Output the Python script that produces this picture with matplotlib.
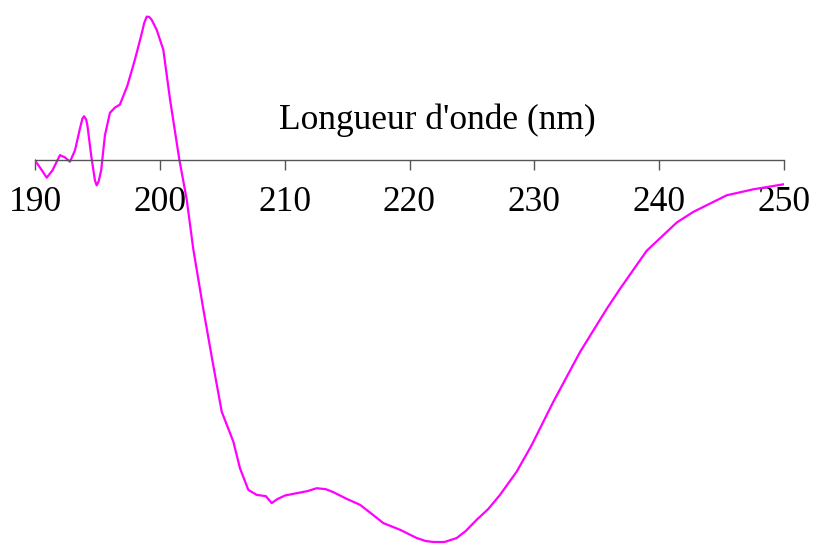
import numpy as np
import matplotlib.pyplot as plt

# CD spectrum (arbitrary units)
wavelength = [190.0, 190.5, 190.94, 191.4, 192.0, 192.4, 192.8, 193.2, 193.6, 193.8, 193.93,
              194.1, 194.2, 194.5, 194.8, 194.94, 195.1, 195.3, 195.6, 196.0, 196.4, 196.8, 197.4, 198.0,
              198.5, 198.75, 198.95, 199.15, 199.35, 199.75, 200.28, 200.82, 201.56, 202.15, 202.68,
              203.48, 204.28, 204.96, 205.89, 206.42, 207.09, 207.76, 208.5,
              208.96, 209.4, 210.03, 210.96, 211.8, 212.57, 213.3, 213.9, 214.97,
              216.04, 217.0, 217.9, 219.24, 220.58, 221.3, 221.91, 222.8, 223.78,
              224.5, 225.38, 226.3, 227.25, 228.59, 229.79, 231.52, 233.66, 235.8,
              236.86, 239.0, 241.41, 242.73, 245.41, 247.54, 249.95]
signal = [0, -9, -17.3, -10, 5.3, 3, -1.3, 10, 32, 42, 44.3,
          41, 35, 5, -20, -25, -21, -10, 25, 47.7, 53, 56, 75, 101,
          125, 138, 144.3, 144, 141, 131, 111, 61, 1, -39, -89,
          -149, -205.7, -252.3, -282.3, -309, -330.7, -335.7, -337,
          -344, -340, -336.3, -334, -332, -329, -330, -333, -339.7,
          -345.7, -355, -364, -370.7, -379, -382, -383, -383, -379,
          -372, -360.7, -350, -335.7, -312.3, -285.7, -242.3, -192.3, -149,
          -129, -90.7, -62.3, -51.7, -35, -29, -24]

ticks = [190, 200, 210, 220, 230, 240, 250]

plt.rcParams['font.family'] = ['Liberation Serif', 'DejaVu Serif']

fig = plt.figure(figsize=(8.13, 5.45), dpi=100)
ax = fig.add_axes([35/813, 0, (784-35)/813, 1])
ax.plot(wavelength, signal, color='#ff00ff', lw=1.6)

ax.set_xlim(190, 250)
ax.set_ylim(-386, 161)
for s in ['top', 'right', 'left']:
    ax.spines[s].set_visible(False)
ax.spines['bottom'].set_position(('data', 0))
ax.spines['bottom'].set_color('#555555')
ax.spines['bottom'].set_linewidth(1.0)
ax.set_yticks([])
ax.set_xticks(ticks)
ax.tick_params(axis='x', direction='out', length=7.5, width=1.0, color='#555555',
               pad=11, labelsize=25.5)
ax.text(222.24, 32, "Longueur d'onde (nm)", ha='center', va='baseline', fontsize=25.5)
ax.patch.set_alpha(0)

fig.savefig('out.png', dpi=100)
